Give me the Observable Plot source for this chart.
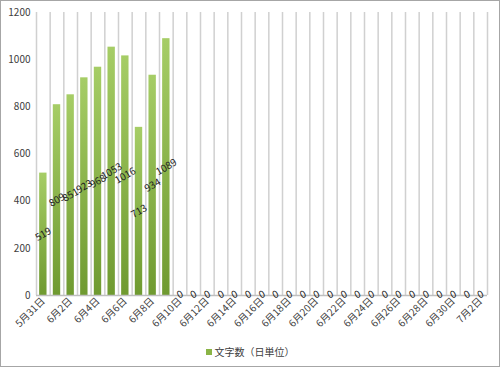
<!DOCTYPE html>
<html><head><meta charset="utf-8">
<script src="https://cdn.jsdelivr.net/npm/d3@7"></script>
<script src="https://cdn.jsdelivr.net/npm/@observablehq/plot@0.6"></script>
<style>
body{margin:0;background:#fff;font-family:"Noto Sans CJK JP","Noto Sans",sans-serif;}
#frame{position:absolute;left:0;top:0;width:500px;height:367px;box-sizing:border-box;border:1px solid #a6a6a6;background:#fff;}
#legend{position:absolute;left:0;width:498px;top:343px;text-align:center;font-size:10px;color:#404040;}
#legend span.sw{display:inline-block;width:6px;height:6px;background:#8ab446;margin-right:3px;vertical-align:1px;}
</style></head>
<body>
<div id="frame"><div id="chart"></div><div id="legend"><span class="sw"></span>文字数（日単位）</div></div>
<script>
const days = ["5月31日","6月1日","6月2日","6月3日","6月4日","6月5日","6月6日","6月7日","6月8日","6月9日","6月10日","6月11日","6月12日","6月13日","6月14日","6月15日","6月16日","6月17日","6月18日","6月19日","6月20日","6月21日","6月22日","6月23日","6月24日","6月25日","6月26日","6月27日","6月28日","6月29日","6月30日","7月1日","7月2日"];
const counts = [519,809,851,923,968,1053,1016,713,934,1089,0,0,0,0,0,0,0,0,0,0,0,0,0,0,0,0,0,0,0,0,0,0,0];
const yTicks = [0,200,400,600,800,1000,1200];

const data = days.map((d,i)=>({i, day:d, v:counts[i]}));
const nonzero = data.filter(d=>d.v>0);
const zeros = data.filter(d=>d.v===0);

const chart = Plot.plot({
  width: 498, height: 335,
  marginLeft: 35, marginRight: 12, marginTop: 11, marginBottom: 41,
  style: {fontFamily: '"Noto Sans CJK JP","Noto Sans",sans-serif', fontSize: "10px", color: "#404040", background: "transparent"},
  x: {type: "linear", domain: [0, days.length], axis: null},
  y: {domain: [0,1200], ticks: yTicks, tickSize: 0, tickPadding: 6, label: null, tickFormat: d=>String(d)},
  marks: [
    Plot.ruleX(d3.range(days.length+1), {stroke: "#d0d0d0", strokeWidth: 1.5}),
    Plot.rectY(data, {x1: d=>d.i+0.23, x2: d=>d.i+0.77, y: "v", fill: "url(#barGrad)"}),
    Plot.ruleY([0], {stroke: "#bfbfbf", strokeWidth: 1.5}),
    Plot.axisX(data.filter(d=>d.i%2===0).map(d=>d.i+0.5), {tickSize: 0, tickPadding: 4, tickRotate: -45, tickFormat: d=>days[Math.floor(d)], label: null, fill: "#404040"}),
    Plot.text(nonzero, {x: d=>d.i+0.5, y: d=>d.v/2, text: d=>String(d.v), rotate: -30, fill: "#222", fontSize: 10}),
    Plot.text(zeros, {x: d=>d.i+0.5, y: 0, text: d=>String(d.v), dy: -1, rotate: -30, fill: "#222", fontSize: 10})
  ]
});
const defs = document.createElementNS("http://www.w3.org/2000/svg","defs");
defs.innerHTML = '<linearGradient id="barGrad" x1="0" y1="0" x2="0" y2="1"><stop offset="0" stop-color="#a6cd66"/><stop offset="1" stop-color="#6f9a30"/></linearGradient>';
chart.insertBefore(defs, chart.firstChild);
document.getElementById("chart").appendChild(chart);
</script>
</body></html>
